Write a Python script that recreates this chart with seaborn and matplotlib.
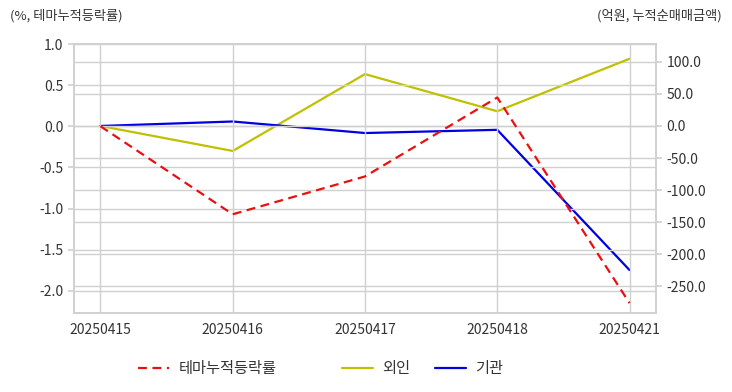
import pandas as pd
import matplotlib.pyplot as plt
import seaborn as sns
from matplotlib.lines import Line2D

# Data
dates = ["20250415", "20250416", "20250417", "20250418", "20250421"]
theme_rate = [0.0, -1.07, -0.61, 0.35, -2.15]      # %, left axis
foreign = [0.0, -39.0, 81.0, 23.0, 105.0]         # 억원, right axis
institution = [0.0, 7.0, -11.0, -6.0, -225.0]     # 억원, right axis

left_ticks = [1.0, 0.5, 0.0, -0.5, -1.0, -1.5, -2.0]
right_ticks = [100.0, 50.0, 0.0, -50.0, -100.0, -150.0, -200.0, -250.0]

df = pd.DataFrame({"date": dates, "theme": theme_rate,
                   "foreign": foreign, "inst": institution})
df["x"] = range(len(dates))

sns.set_theme(style="white")
plt.rcParams["font.family"] = ["Noto Sans CJK KR", "DejaVu Sans"]

grid_c = "#d0d0d0"
text_c = "#333333"
red, yellow, blue = "#e81010", "#c0c000", "#0000e0"
dash = (0, (4, 2.5))

fig = plt.figure(figsize=(7.32, 3.92), dpi=100)
ax = fig.add_axes([74 / 732, 1 - 313 / 392, (656 - 74) / 732, (313 - 44) / 392])
ax2 = ax.twinx()

sns.lineplot(data=df, x="x", y="theme", ax=ax, color=red, linewidth=1.6,
             linestyle=dash, zorder=3)
sns.lineplot(data=df, x="x", y="foreign", ax=ax2, color=yellow, linewidth=1.6)
sns.lineplot(data=df, x="x", y="inst", ax=ax2, color=blue, linewidth=1.6)

ax.set_xlim(-0.2, 4.2)
ax.set_ylim(-2.27, 1.0)
ax2.set_ylim(-292, 128)

ax.set_xticks(df["x"])
ax.set_xticklabels(dates)
ax.set_yticks(left_ticks)
ax.set_yticklabels([f"{v:.1f}" for v in left_ticks])
ax2.set_yticks(right_ticks)
ax2.set_yticklabels([f"{v:.1f}" for v in right_ticks])

ax.set_xlabel("")
ax.set_ylabel("")
ax2.set_ylabel("")

# grids from both axes
ax.grid(True, color=grid_c, linewidth=1)
ax2.grid(True, axis="y", color=grid_c, linewidth=1)
ax.set_axisbelow(True)
ax2.set_axisbelow(True)
ax.set_zorder(ax2.get_zorder() + 1)
ax.patch.set_visible(False)

for a in (ax, ax2):
    for s in a.spines.values():
        s.set_color(grid_c)
        s.set_linewidth(1.2)
    a.tick_params(colors=text_c, labelsize=10, length=4, color=grid_c)

fig.text(10 / 732, 1 - 16 / 392, "(%, 테마누적등락률)", fontsize=9.5,
         color=text_c, ha="left", va="center")
fig.text(722 / 732, 1 - 16 / 392, "(억원, 누적순매매금액)", fontsize=9.5,
         color=text_c, ha="right", va="center")

# legend items placed individually (uneven spacing in the reference)
items = [("테마누적등락률", red, dash, 138),
         ("외인", yellow, "-", 342),
         ("기관", blue, "-", 435)]
for label, col, ls, xpix in items:
    h = Line2D([], [], color=col, linewidth=1.6, linestyle=ls)
    leg = fig.legend([h], [label], loc="center left",
                     bbox_to_anchor=(xpix / 732, 1 - 369 / 392),
                     frameon=False, fontsize=11, handlelength=2.0,
                     handletextpad=0.65, borderpad=0, borderaxespad=0,
                     labelcolor=text_c)

plt.savefig("out.png", dpi=100)
